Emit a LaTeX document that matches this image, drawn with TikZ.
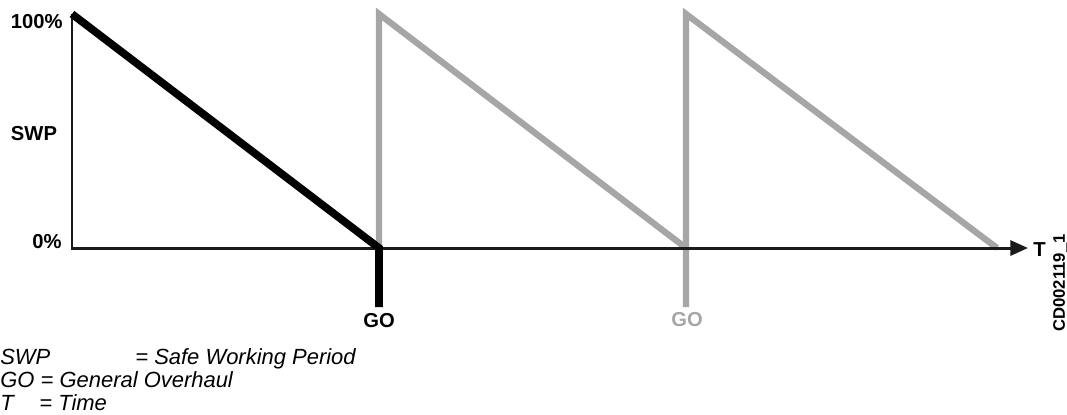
\documentclass[tikz,border=0pt]{standalone}
\usepackage{fontspec}
\setsansfont{Liberation Sans}
\usetikzlibrary{arrows.meta}
\definecolor{swpGray}{HTML}{A6A6A6}
\definecolor{swpAxis}{HTML}{1A1A1A}

\begin{document}
\begin{tikzpicture}[x=0.02cm, y=-0.02cm, font=\sffamily,
  lbl/.style={font=\sffamily\bfseries\fontsize{11.5}{13}\selectfont, inner sep=0pt},
  note/.style={font=\sffamily\itshape\fontsize{12.5}{14}\selectfont, inner sep=0pt, anchor=base west},
  cycleblack/.style={draw=black, line width=4.4pt},
  cyclegray/.style={draw=swpGray, line width=3.6pt},
  axisline/.style={draw=swpAxis, line width=1.7pt}]
  \useasboundingbox (0,0) rectangle (1067,414);

  % axis points
  \coordinate (ytop) at (72,14);
  \coordinate (origin) at (72,248);
  \coordinate (tend) at (1028,248);
  % overhaul points
  \coordinate (go1) at (379,248);
  \coordinate (go1top) at (379,14);
  \coordinate (go1foot) at (379,307);
  \coordinate (go2) at (686,248);
  \coordinate (go2top) at (686,14);
  \coordinate (go2foot) at (686,307);
  \coordinate (go3) at (997,248);

  % later periods
  \draw[cyclegray] (go1) -- (go1top) -- (go2);
  \draw[cyclegray] (go2foot) -- (go2top) -- (go3);

  % axes
  \draw[axisline, -{Triangle[length=10pt, width=8.5pt]}] (ytop) -- (origin) -- (tend);

  % first period
  \draw[cycleblack] (ytop) -- (go1) -- (go1foot);

  % labels
  \node[lbl, anchor=east] (full) at (63,22) {100\%};
  \node[lbl] (swp) at (34,134) {SWP};
  \node[lbl, anchor=east] (zero) at (62,242) {0\%};
  \node[lbl] (go1lbl) at (379,321) {GO};
  \node[lbl, text=swpGray] (go2lbl) at (687,320) {GO};
  \node[lbl, anchor=west] (tlbl) at (1033,250) {T};
  \node[lbl, font=\sffamily\bfseries\fontsize{9.5}{11}\selectfont, rotate=90] (code) at (1060,283) {CD002119\_1};

  % legend
  \node[note] (swpkey) at (0,364) {SWP};
  \node[note] (swptxt) at (135,364) {= Safe Working Period};
  \node[note] (gokey) at (0,387) {GO = General Overhaul};
  \node[note] (tkey) at (0,410) {T};
  \node[note] (ttxt) at (39,410) {= Time};
\end{tikzpicture}
\end{document}
